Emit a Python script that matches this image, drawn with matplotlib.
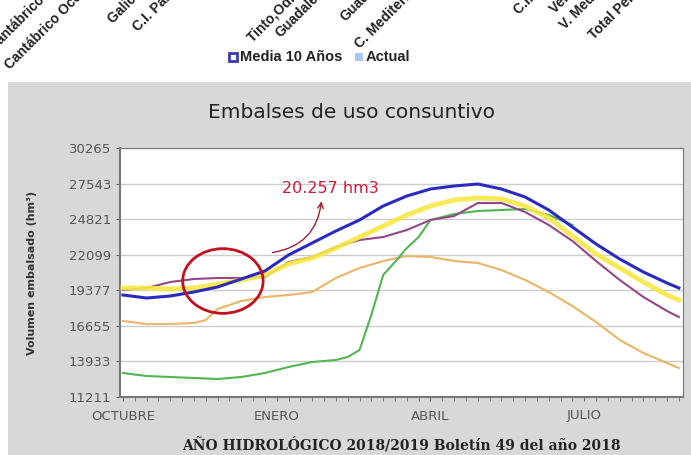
import matplotlib.pyplot as plt
import matplotlib.patches as patches

# semanas del año hidrológico (0 = primera semana de octubre)
semanas = [0, 2, 4, 6, 8, 10, 12, 14, 16, 18, 20, 22, 24, 26, 28, 30, 32, 34, 36, 38, 40, 42, 44, 46, 47]

media_10 = [19016, 18786, 18940, 19246, 19628, 20240, 20853, 22077, 22995, 23913, 24755, 25826, 26591,
            27127, 27357, 27510, 27127, 26515, 25520, 24219, 22919, 21771, 20776, 19934, 19552]
amarillo = [19552, 19552, 19475, 19552, 19858, 20164, 20547, 21388, 21847, 22612, 23454, 24296, 25138,
            25826, 26285, 26438, 26362, 25826, 24908, 23531, 22153, 21082, 20011, 19016, 18634]
morado = [19399, 19552, 20011, 20240, 20317, 20317, 20393, 21541, 21924, 22689, 23225, 23454, 23990,
          24755, 25061, 26056, 26056, 25367, 24372, 23148, 21618, 20164, 18863, 17792, 17333]

semanas_verde = [0, 2, 4, 6, 8, 10, 12, 14, 16, 18, 19, 20, 21, 22, 23, 24, 25, 26, 28, 30, 32, 34, 36, 38]
verde = [13047, 12818, 12741, 12665, 12588, 12741, 13047, 13507, 13889, 14042, 14272, 14807, 17486, 20546,
         21541, 22612, 23454, 24755, 25214, 25444, 25520, 25597, 25138, 24372]

semanas_naranja = [0, 2, 4, 6, 7, 8, 10, 12, 14, 16, 18, 20, 22, 24, 26, 28, 30, 32, 34, 36, 38, 40, 42, 44, 46, 47]
naranja = [17027, 16797, 16797, 16874, 17103, 17945, 18557, 18863, 19016, 19246, 20317, 21082, 21618, 21999,
           21924, 21618, 21465, 20929, 20164, 19246, 18174, 16950, 15573, 14578, 13813, 13430]

y_ticks = [11211, 13933, 16655, 19377, 22099, 24821, 27543, 30265]
meses = ['OCTUBRE', 'ENERO', 'ABRIL', 'JULIO']
pos_meses = [0, 13, 26, 39]

# etiquetas giradas del gráfico de barras de arriba (cortadas por el borde, como en el original)
etiquetas = ['Cantábrico Oriental', 'Cantábrico Occidental', 'Galicia Costa', 'C.I. País Vasco',
             'Tinto,Odiel y Piedras', 'Guadalete-Barbate', 'Guadalquivir', 'C. Mediterránea Andaluza',
             'C.I. Cataluña', 'Vertiente Atlántica', 'V. Mediterránea', 'Total Peninsular']
pos_etiquetas = [(-6, 52), (10, 70), (113, 24), (138, 32), (253, 43), (280, 38), (345, 22), (360, 49),
                 (519, 15), (555, 14), (565, 30), (594, 40)]

W, H = 691, 455
fig = plt.figure(figsize=(W / 100, H / 100), dpi=100)
fig.patch.set_facecolor('white')

# panel gris
fig.patches.append(patches.Rectangle((8 / W, 0), 1, 1 - 82 / H, transform=fig.transFigure,
                                     facecolor='#d8d8d8', edgecolor='none', zorder=-5))

for txt, (px, py) in zip(etiquetas, pos_etiquetas):
    fig.text(px / W, 1 - py / H, txt, rotation=45, rotation_mode='anchor', ha='left', va='baseline',
             fontsize=10, fontweight='bold', family='Liberation Sans', color='#222222')

# leyenda de arriba
fig.patches.append(patches.Rectangle((229 / W, 1 - 61 / H), 8 / W, 8 / H, transform=fig.transFigure,
                                     facecolor='white', edgecolor='#3a3aa8', linewidth=2))
fig.text(240 / W, 1 - 57 / H, 'Media 10 Años', fontsize=10.5, fontweight='bold', family='Liberation Sans',
         va='center', ha='left', color='#222222')
fig.patches.append(patches.Rectangle((355 / W, 1 - 61 / H), 8 / W, 8 / H, transform=fig.transFigure,
                                     facecolor='#a9c9ef', edgecolor='none'))
fig.text(366 / W, 1 - 57 / H, 'Actual', fontsize=10.5, fontweight='bold', family='Liberation Sans',
         va='center', ha='left', color='#222222')

fig.text(351 / W, 1 - 113 / H, 'Embalses de uso consuntivo', fontsize=14.5, ha='center', va='center',
         color='#222222')

ax = fig.add_axes([120 / W, 1 - 397 / H, 563 / W, 249 / H])
ax.set_facecolor('white')

ax.plot(semanas_naranja, naranja, color='#ebb565', lw=1.5, zorder=3)
ax.plot(semanas_verde, verde, color='#52b552', lw=1.5, zorder=3)
ax.plot(semanas, morado, color='#94468a', lw=1.5, zorder=4)
ax.plot(semanas, amarillo, color='#f8e845', lw=3.5, alpha=0.9, zorder=4)
ax.plot(semanas, media_10, color='#2a2ac0', lw=2.2, zorder=5)

ax.set_xlim(-0.25, 47.35)
ax.set_ylim(y_ticks[0], y_ticks[-1])
ax.set_yticks(y_ticks)
ax.set_xticks(pos_meses)
ax.set_xticklabels(meses)
ax.set_xticks(range(0, 48), minor=True)
ax.yaxis.grid(True, color='#cccccc', lw=1)
ax.set_axisbelow(True)
ax.tick_params(axis='both', which='both', direction='out', length=3, color='#666666',
               labelsize=9.5, labelcolor='#555555')
ax.tick_params(axis='x', pad=6)
for s in ax.spines.values():
    s.set_color('#777777')
ax.spines['left'].set_linewidth(1.5)
ax.spines['bottom'].set_linewidth(1.5)

ax.set_ylabel('Volumen embalsado (hm³)', fontsize=8, fontweight='bold', color='#333333')
ax.yaxis.set_label_coords(-0.147, 0.5)
fig.text(401 / W, 1 - 445 / H, 'AÑO HIDROLÓGICO 2018/2019 Boletín 49 del año 2018', fontsize=10,
         fontweight='bold', family='DejaVu Serif', ha='center', va='center', color='#222222')

# anotación
ax.add_patch(patches.Ellipse((8.45, 20087), 6.8, 4950, fill=False, edgecolor='#c2101e', lw=2, zorder=6))
ax.annotate('20.257 hm3', xy=(16.8, 26515), xytext=(17.5, 27204), fontsize=11.5, color='#cc1a3a',
            ha='center', va='center', zorder=7)
ax.annotate('', xy=(16.8, 26400), xytext=(12.4, 22230),
            arrowprops=dict(arrowstyle='->', color='#9b2030', lw=1, connectionstyle='arc3,rad=0.4'))

fig.savefig('out.png', dpi=100)
